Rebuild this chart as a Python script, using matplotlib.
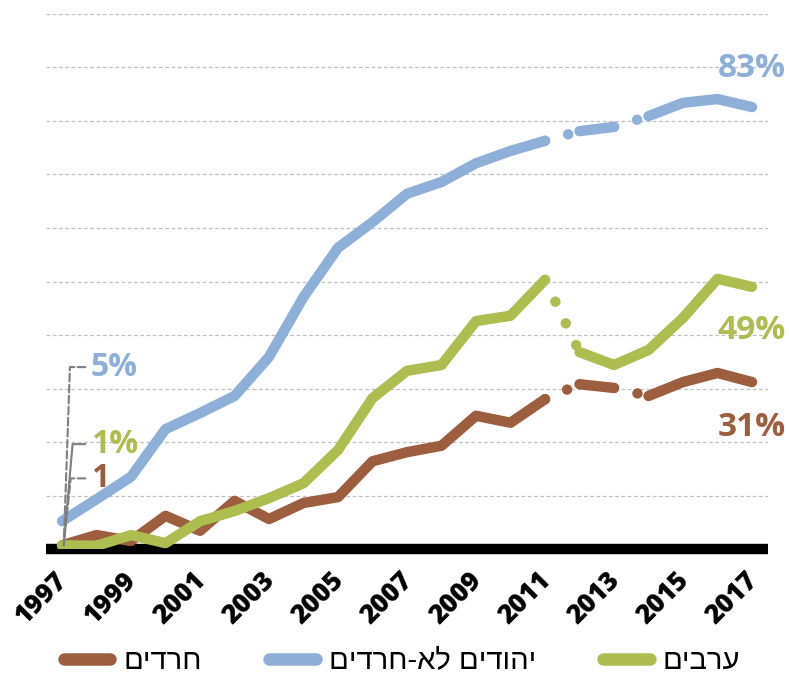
import matplotlib
matplotlib.use("Agg")
import matplotlib.pyplot as plt
import matplotlib.transforms as mtransforms
from matplotlib.lines import Line2D
import numpy as np

YEARS = list(range(1997, 2018))

# share of each group (%)
HAREDIM = [0.7, 2.6, 1.5, 6.2, 3.4, 9.0, 5.6, 8.6, 9.7, 16.4, 18.1,
           19.3, 24.9, 23.6, 28.0, 30.8, 30.1, 28.6, 31.2, 32.9, 31.2]
NON_HAREDI_JEWS = [5.2, 9.3, 13.5, 22.4, 25.4, 28.6, 35.9, 47.1, 56.3, 61.1, 66.4,
                   68.6, 72.1, 74.4, 76.3, 78.1, 78.9, 80.9, 83.4, 84.1, 82.6]
ARABS = [0.7, 0.6, 2.6, 1.1, 5.2, 7.1, 9.5, 12.3, 18.5, 28.2, 33.3,
         34.4, 42.6, 43.6, 50.3, 36.8, 34.4, 37.2, 43.2, 50.5, 49.0]

LABELS = ["חרדים", "יהודים לא-חרדים", "ערבים"]
END_LABELS = ["31%", "83%", "49%"]
START_LABELS = ["1", "5%", "1%"]

COLORS = ["#9C5E3F", "#8EB0D8", "#ADBD50"]
LEADER = "#7F7F7F"

# index pairs of the dotted (broken) segments per series
DOTTED = [[(14, 15), (16, 17)], [(14, 15), (16, 17)], [(14, 15)]]


def rtl(s):
    # matplotlib lays text out left to right, so flip Hebrew for display
    return s[::-1]


fig = plt.figure(figsize=(7.89, 6.78), dpi=100)
ax = fig.add_axes([46 / 789, 129 / 678, 722 / 789, 535 / 678])

series = [HAREDIM, NON_HAREDI_JEWS, ARABS]
years = np.array(YEARS)
LW = 7.5
for vals, col, gaps in zip(series, COLORS, DOTTED):
    vals = np.array(vals)
    cuts = [0]
    for a, b in gaps:
        cuts += [a, b]
    cuts.append(len(years) - 1)
    # solid pieces
    for s, e in zip(cuts[0::2], cuts[1::2]):
        ax.plot(years[s:e + 1], vals[s:e + 1], color=col, lw=LW,
                solid_capstyle="round", solid_joinstyle="round", zorder=3)
    # dotted pieces
    for a, b in gaps:
        ax.plot(years[a:b + 1], vals[a:b + 1], color=col, lw=LW,
                linestyle=(0, (0.01, 2.3)), dash_capstyle="round", zorder=3)

ax.set_xlim(1996.536, 2017.464)
ax.set_ylim(0, 100)
ax.set_yticks(np.arange(0, 101, 10))
ax.set_yticklabels([])
ax.yaxis.grid(True, color="#C0C0C0", lw=0.9, linestyle=(0, (3, 2)))
ax.set_axisbelow(True)
ax.tick_params(axis="both", length=0)

for side in ["top", "right", "left"]:
    ax.spines[side].set_visible(False)
ax.spines["bottom"].set_linewidth(7.5)
ax.spines["bottom"].set_color("black")
ax.spines["bottom"].set_capstyle("butt")
ax.spines["bottom"].set_zorder(2)

ax.set_xticks(YEARS[::2])
ax.set_xticklabels([str(y) for y in YEARS[::2]], rotation=45, ha="right",
                   va="top", fontsize=19, fontweight="heavy", family="Open Sans")
ax.tick_params(axis="x", pad=13)
shift = mtransforms.ScaledTranslation(8 / 72, 0, fig.dpi_scale_trans)
for lab in ax.get_xticklabels():
    lab.set_transform(lab.get_transform() + shift)

# end-of-line value labels
end_y = [22.8, 89.9, 40.9]
for txt, yv, col in zip(END_LABELS, end_y, COLORS):
    ax.text(YEARS[-1], yv, txt, color=col, fontsize=24, fontweight="bold",
            family="Open Sans", ha="center", va="center", zorder=4)

# start value labels with leader lines
start_pos = [(1997.84, 13.2), (1997.84, 34.0), (1997.84, 19.6)]
leader_style = ["--", "--", "-"]
leader_angle = [84, 88, 85]
for txt, (xt, yt), col, vals, ls, ang in zip(START_LABELS, start_pos, COLORS,
                                              [ARABS, ARABS, HAREDIM],
                                              leader_style, leader_angle):
    ax.annotate(txt, xy=(YEARS[0] + 0.05, vals[0]), xytext=(xt, yt),
                color=col, fontsize=23, fontweight="bold", family="Open Sans",
                ha="left", va="center", zorder=4,
                arrowprops=dict(arrowstyle="-", color=LEADER, lw=1.5, ls=ls,
                                relpos=(0, 0.5), shrinkA=2, shrinkB=0,
                                connectionstyle=f"angle,angleA=0,angleB={ang},rad=0"))

handles = [Line2D([], [], color=c, lw=9, solid_capstyle="round") for c in COLORS]
fig.legend(handles, [rtl(s) for s in LABELS], loc="center",
           bbox_to_anchor=(402 / 789, 1 - 661 / 678), ncol=3, frameon=False,
           prop={"family": ["Liberation Sans", "DejaVu Sans"], "size": 21},
           handlelength=1.6, handletextpad=0.45, columnspacing=2.3,
           borderaxespad=0)

fig.savefig("out.png", dpi=100)
